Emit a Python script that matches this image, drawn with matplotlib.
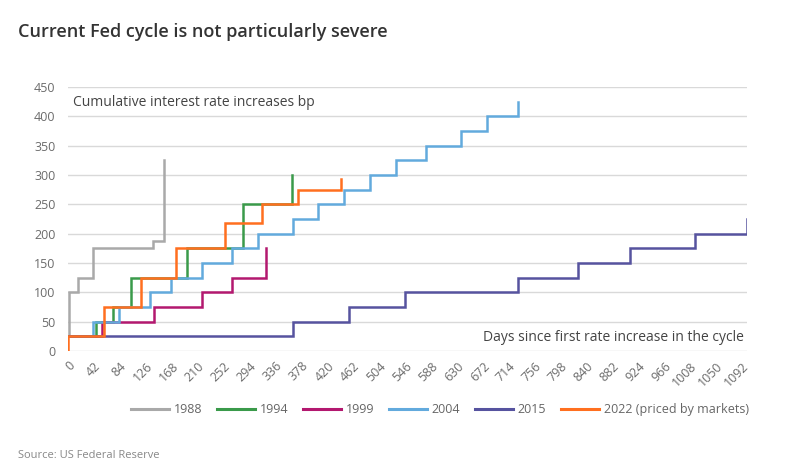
import matplotlib
matplotlib.use("Agg")
import matplotlib.pyplot as plt

# ---- data (days since first hike, cumulative bp) ----
days_1988 = [0, 2, 17, 41, 138, 155]
bp_1988 = [25, 100, 125, 175, 187.5, 325]

days_1994 = [0, 46, 73, 102, 193, 284, 362]
bp_1994 = [25, 50, 75, 125, 175, 250, 300]

days_1999 = [0, 55, 139, 217, 265, 321]
bp_1999 = [25, 50, 75, 100, 125, 175]

days_2004 = [0, 41, 83, 133, 167, 217, 265, 307, 365, 405, 447, 489, 531, 580, 636, 679, 729]
bp_2004 = [25, 50, 75, 100, 125, 150, 175, 200, 225, 250, 275, 300, 325, 350, 375, 400, 425]

days_2015 = [0, 364, 455, 546, 728, 826, 910, 1015, 1099]
bp_2015 = [25, 50, 75, 100, 125, 150, 175, 200, 225]

days_2022 = [0, 0, 59, 119, 175, 255, 314, 373, 442]
bp_2022 = [0, 25, 75, 125, 175, 218.75, 250, 275, 293.75]

series_labels = ["1988", "1994", "1999", "2004", "2015", "2022 (priced by markets)"]
colors = ["#a9a9a9", "#3a9a4a", "#b3186f", "#62aadd", "#56539f", "#ff6f1f"]

x_ticks = list(range(0, 1093, 42))
y_ticks = list(range(0, 451, 50))

plt.rcParams['font.family'] = ['Open Sans', 'DejaVu Sans']

fig = plt.figure(figsize=(8, 4.75), dpi=100)
ax = fig.add_axes([0.085, 0.261, 0.849, 0.556])

all_days = [days_1988, days_1994, days_1999, days_2004, days_2015, days_2022]
all_bp = [bp_1988, bp_1994, bp_1999, bp_2004, bp_2015, bp_2022]
for d, v, c, lab in zip(all_days, all_bp, colors, series_labels):
    ax.step(d, v, where="post", color=c, lw=1.8, label=lab, solid_joinstyle="miter")

ax.set_xlim(0, 1100)
ax.set_ylim(0, 450)
ax.set_yticks(y_ticks)
ax.set_xticks(x_ticks)
ax.set_xticklabels([str(t) for t in x_ticks], rotation=45, ha="right", rotation_mode="anchor")
ax.tick_params(axis="both", length=0, labelsize=9, colors="#6b6b6b")
ax.tick_params(axis="y", pad=9)
ax.tick_params(axis="x", pad=6)
ax.grid(axis="y", color="#d9d9d9", lw=1)
ax.set_axisbelow(True)
for s in ax.spines.values():
    s.set_visible(False)

ax.text(0.007, 0.94, "Cumulative interest rate increases bp", transform=ax.transAxes,
        fontsize=10, color="#444444", va="center", ha="left")
ax.text(0.995, 0.05, "Days since first rate increase in the cycle", transform=ax.transAxes,
        fontsize=10, color="#444444", va="center", ha="right")

fig.text(0.0225, 0.933, "Current Fed cycle is not particularly severe", fontsize=13,
         color="#333333", fontweight="semibold", va="center", ha="left")
fig.text(0.0225, 0.042, "Source: US Federal Reserve", fontsize=8, color="#888888",
         va="center", ha="left")

handles, labels = ax.get_legend_handles_labels()
leg = fig.legend(handles, labels, loc="center", bbox_to_anchor=(0.55, 0.137), ncol=6,
                 frameon=False, fontsize=9, handlelength=3.0, handletextpad=0.4,
                 columnspacing=1.2)
for t in leg.get_texts():
    t.set_color("#666666")
for l in leg.get_lines():
    l.set_linewidth(2.2)

fig.savefig("out.png", dpi=100)
